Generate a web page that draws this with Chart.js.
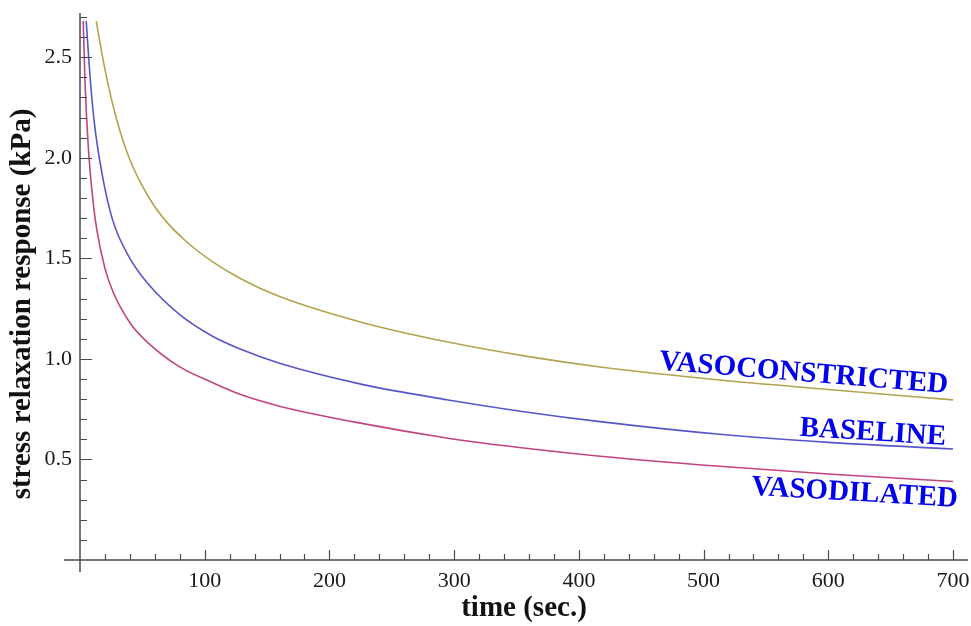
<!DOCTYPE html>
<html>
<head>
<meta charset="utf-8">
<script src="https://cdn.jsdelivr.net/npm/chart.js@4/dist/chart.umd.min.js"></script>
<style>
  html, body { margin: 0; padding: 0; background: #ffffff; }
  #wrap { width: 971px; height: 626px; }
</style>
</head>
<body>
<div id="wrap"><canvas id="c" width="971" height="626"></canvas></div>
<script>
// ---- data (time in s, stress in kPa) ----
const vasoconstrictedTime = [13, 20, 29.4, 40, 53.5, 66.8, 85, 107, 130, 160, 227, 294, 361, 417, 513, 600, 700];
const vasoconstrictedKPa  = [2.68, 2.44, 2.19, 1.99, 1.82, 1.70, 1.585, 1.48, 1.395, 1.31, 1.18, 1.085, 1.01, 0.96, 0.895, 0.848, 0.796];

const baselineTime = [5, 7.5, 11.2, 17.4, 26.2, 40, 53.7, 80, 107, 130, 160, 227, 294, 353, 417, 513, 600, 700];
const baselineKPa  = [2.68, 2.45, 2.19, 1.93, 1.69, 1.50, 1.38, 1.22, 1.11, 1.045, 0.978, 0.872, 0.797, 0.74, 0.688, 0.625, 0.585, 0.552];

const vasodilatedTime = [2.6, 4, 6.7, 10.7, 13.4, 20, 26.7, 40, 53.7, 80, 107, 130, 160, 227, 294, 361, 417, 513, 600, 700];
const vasodilatedKPa  = [2.68, 2.38, 2.05, 1.77, 1.645, 1.45, 1.33, 1.18, 1.085, 0.96, 0.88, 0.82, 0.765, 0.678, 0.607, 0.553, 0.516, 0.466, 0.428, 0.39];

const seriesNames = ['VASOCONSTRICTED', 'BASELINE', 'VASODILATED'];
const xTickLabels = [100, 200, 300, 400, 500, 600, 700];
const yTickLabels = [0.5, 1.0, 1.5, 2.0, 2.5];
const xAxisTitle = 'time (sec.)';
const yAxisTitle = 'stress relaxation response (kPa)';

function pairs(ts, vs) { return ts.map((t, i) => ({ x: t, y: vs[i] })); }

const SERIF = '"Liberation Serif", "Times New Roman", serif';

// Mathematica-style axes with inward ticks, drawn through the chart's scales
const axesPlugin = {
  id: 'mmaAxes',
  afterDatasetsDraw(chart) {
    const { ctx, scales: { x, y } } = chart;
    const x0 = x.getPixelForValue(0), y0 = y.getPixelForValue(0);
    ctx.save();
    ctx.strokeStyle = '#4a4a4a';
    ctx.lineWidth = 1.5;
    ctx.beginPath();
    ctx.moveTo(x0 - 16, y0); ctx.lineTo(x.right, y0);
    ctx.moveTo(x0, y.top); ctx.lineTo(x0, y0 + 12);
    ctx.stroke();
    ctx.lineWidth = 1.2;
    ctx.beginPath();
    for (let t = 20; t <= x.max; t += 20) {
      const px = Math.round(x.getPixelForValue(t)) + 0.5;
      const len = (t % 100 === 0) ? 10 : 6;
      ctx.moveTo(px, y0); ctx.lineTo(px, y0 - len);
    }
    for (let k = 1; k / 10 <= y.max; k++) {
      const py = Math.round(y.getPixelForValue(k / 10)) + 0.5;
      const len = (k % 5 === 0) ? 12 : 7;
      ctx.moveTo(x0, py); ctx.lineTo(x0 + len, py);
    }
    ctx.stroke();
    // vertical axis title
    ctx.fillStyle = '#111';
    ctx.font = 'bold 29px ' + SERIF;
    ctx.textAlign = 'center';
    ctx.textBaseline = 'middle';
    ctx.translate(23, 304);
    ctx.rotate(-Math.PI / 2);
    ctx.fillText(yAxisTitle, 0, 0);
    ctx.restore();
  }
};

// curve labels anchored in data coordinates (right end of baseline)
const curveLabelPlugin = {
  id: 'curveLabels',
  afterDatasetsDraw(chart, args, opts) {
    const { ctx, scales: { x, y } } = chart;
    ctx.save();
    ctx.font = 'bold 29px ' + SERIF;
    ctx.fillStyle = '#0000ee';
    ctx.textAlign = 'right';
    ctx.textBaseline = 'alphabetic';
    opts.items.forEach(it => {
      ctx.save();
      ctx.translate(x.getPixelForValue(it.t), y.getPixelForValue(it.v));
      ctx.rotate(it.angle * Math.PI / 180);
      ctx.fillText(it.text, 0, 0);
      ctx.restore();
    });
    ctx.restore();
  }
};

const lineStyle = { pointRadius: 0, borderWidth: 1.6, fill: false, cubicInterpolationMode: 'monotone' };

new Chart(document.getElementById('c'), {
  type: 'line',
  data: {
    datasets: [
      Object.assign({ label: seriesNames[0], data: pairs(vasoconstrictedTime, vasoconstrictedKPa), borderColor: '#b3a24e' }, lineStyle),
      Object.assign({ label: seriesNames[1], data: pairs(baselineTime, baselineKPa), borderColor: '#5656cc' }, lineStyle),
      Object.assign({ label: seriesNames[2], data: pairs(vasodilatedTime, vasodilatedKPa), borderColor: '#c2437f' }, lineStyle)
    ]
  },
  options: {
    responsive: false,
    animation: false,
    layout: { padding: { top: 13, right: 3, left: 0, bottom: 0 } },
    plugins: {
      legend: { display: false },
      tooltip: { enabled: false },
      curveLabels: {
        items: [
          { text: seriesNames[0], t: 695.5, v: 0.83, angle: 4.7 },
          { text: seriesNames[1], t: 694, v: 0.572, angle: 3.6 },
          { text: seriesNames[2], t: 703.5, v: 0.264, angle: 3.4 }
        ]
      }
    },
    scales: {
      x: {
        type: 'linear', min: 0, max: 712,
        afterBuildTicks: s => { s.ticks = xTickLabels.map(v => ({ value: v })); },
        afterFit: s => { s.height = 66; s.paddingLeft = 0; s.paddingRight = 0; },
        grid: { display: false, drawTicks: false },
        border: { display: false },
        ticks: { color: '#1a1a1a', font: { family: SERIF, size: 22 }, padding: 8, maxRotation: 0, autoSkip: false },
        title: { display: true, text: xAxisTitle, color: '#111', font: { family: SERIF, size: 29, weight: 'bold' }, padding: { top: 0, bottom: 0 } }
      },
      y: {
        type: 'linear', min: 0, max: 2.72,
        afterBuildTicks: s => { s.ticks = yTickLabels.map(v => ({ value: v })); },
        afterFit: s => { s.width = 80; s.paddingTop = 0; s.paddingBottom = 0; },
        grid: { display: false, drawTicks: false },
        border: { display: false },
        ticks: { color: '#1a1a1a', font: { family: SERIF, size: 22 }, padding: 8, autoSkip: false,
                 callback: v => Number(v).toFixed(1) }
      }
    }
  },
  plugins: [axesPlugin, curveLabelPlugin]
});
</script>
</body>
</html>
